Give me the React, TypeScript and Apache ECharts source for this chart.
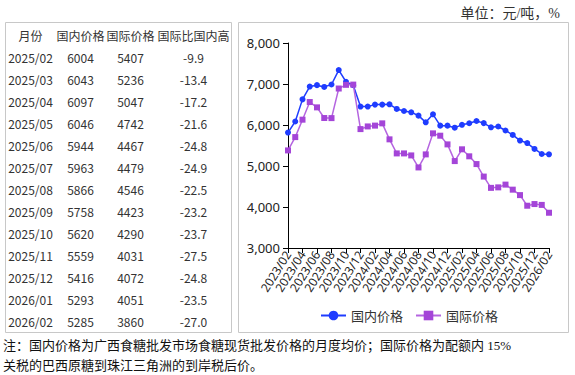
import React, { useEffect, useRef } from "react";
import * as echarts from "echarts";

const months = [
  "2023/02", "2023/03", "2023/04", "2023/05", "2023/06", "2023/07", "2023/08", "2023/09", "2023/10", "2023/11", "2023/12",
  "2024/01", "2024/02", "2024/03", "2024/04", "2024/05", "2024/06", "2024/07", "2024/08", "2024/09", "2024/10", "2024/11", "2024/12",
  "2025/01", "2025/02", "2025/03", "2025/04", "2025/05", "2025/06", "2025/07", "2025/08", "2025/09", "2025/10", "2025/11", "2025/12",
  "2026/01", "2026/02",
];
const domestic = [
  5815, 6085, 6625, 6937, 6972, 6929, 6988, 7340, 7055, 6970, 6449,
  6449, 6497, 6497, 6505, 6391, 6342, 6310, 6228, 6065, 6261, 5984, 5984,
  5935, 6004, 6043, 6097, 6046, 5944, 5963, 5866, 5758, 5620, 5559, 5416,
  5293, 5285,
];
const international = [
  5380, 5705, 6130, 6560, 6430, 6170, 6168, 6890, 6980, 6985, 5900,
  5965, 5985, 6040, 5650, 5307, 5307, 5258, 4965, 5283, 5796, 5739, 5527,
  5120, 5407, 5236, 5047, 4742, 4467, 4479, 4546, 4423, 4290, 4031, 4072,
  4051, 3860,
];

const tableHeader = ["月份", "国内价格", "国际价格", "国际比国内高"];
const tableMonths = ["2025/02", "2025/03", "2025/04", "2025/05", "2025/06", "2025/07", "2025/08", "2025/09", "2025/10", "2025/11", "2025/12", "2026/01", "2026/02"];
const tableDomestic = ["6004", "6043", "6097", "6046", "5944", "5963", "5866", "5758", "5620", "5559", "5416", "5293", "5285"];
const tableIntl = ["5407", "5236", "5047", "4742", "4467", "4479", "4546", "4423", "4290", "4031", "4072", "4051", "3860"];
const tableDiff = ["-9.9", "-13.4", "-17.2", "-21.6", "-24.8", "-24.9", "-22.5", "-23.2", "-23.7", "-27.5", "-24.8", "-23.5", "-27.0"];

const seriesNames = ["国内价格", "国际价格"];
const unitText = "单位：元/吨，%";
const noteLines = [
  "注：国内价格为广西食糖批发市场食糖现货批发价格的月度均价；国际价格为配额内 15%",
  "关税的巴西原糖到珠江三角洲的到岸税后价。",
];

const BLUE = "#1f3cff";
const PURPLE = "#a445d8";
const PURPLE_LINE = "#b565e0";
const CJK = "'Noto Sans CJK SC', 'Noto Sans', sans-serif";
const SERIF = "'Liberation Serif', 'Noto Sans CJK SC', serif";

export default function App() {
  const ref = useRef<HTMLDivElement>(null);
  useEffect(() => {
    document.body.style.margin = "0";
    if (!ref.current) return;
    const chart = echarts.init(ref.current, undefined, { renderer: "svg" });

    const colX = [30.5, 80.5, 130.5, 193.5];
    const tableTexts: any[] = [];
    tableHeader.forEach((h, c) => {
      tableTexts.push({
        type: "text",
        x: colX[c],
        y: 35,
        style: { text: h, fill: "#333", font: `12px ${CJK}`, textAlign: "center", textVerticalAlign: "middle" },
      });
    });
    tableMonths.forEach((m, r) => {
      const row = [m, tableDomestic[r], tableIntl[r], tableDiff[r]];
      row.forEach((t, c) => {
        tableTexts.push({
          type: "text",
          x: colX[c],
          y: 57 + 22 * r,
          style: { text: t, fill: "#333", font: `12px ${CJK}`, textAlign: "center", textVerticalAlign: "middle" },
        });
      });
    });

    const option: any = {
      animation: false,
      grid: { left: 288, right: 26, top: 43, bottom: 127, containLabel: false },
      xAxis: {
        type: "category",
        data: months,
        boundaryGap: false,
        axisLine: { lineStyle: { color: "#000", width: 1 } },
        axisTick: { show: true, interval: 1, length: 5, lineStyle: { color: "#000" } },
        axisLabel: {
          interval: 1,
          rotate: 58,
          fontSize: 12,
          color: "#222",
          fontFamily: "'Noto Sans', sans-serif",
          margin: 4,
          showMinLabel: true,
          showMaxLabel: true,
          hideOverlap: false,
        },
        splitLine: { show: false },
      },
      yAxis: {
        type: "value",
        min: 3000,
        max: 8000,
        interval: 1000,
        axisLine: { show: true, lineStyle: { color: "#000", width: 1 } },
        axisTick: { show: true, length: 5, lineStyle: { color: "#000" } },
        splitLine: { show: false },
        axisLabel: {
          formatter: (v: number) => v.toLocaleString("en-US"),
          fontSize: 13,
          color: "#222",
          fontFamily: "'Noto Sans', sans-serif",
          margin: 8,
        },
      },
      legend: {
        left: 315,
        top: 304,
        itemWidth: 25,
        itemHeight: 12,
        itemGap: 12,
        textStyle: { fontSize: 13, color: "#333", fontFamily: CJK },
        data: seriesNames,
      },
      series: [
        {
          name: seriesNames[0],
          type: "line",
          data: domestic,
          symbol: "circle",
          symbolSize: 6,
          showAllSymbol: true,
          itemStyle: { color: BLUE },
          lineStyle: { color: BLUE, width: 1.5 },
          z: 2,
        },
        {
          name: seriesNames[1],
          type: "line",
          data: international,
          symbol: "rect",
          symbolSize: 6,
          showAllSymbol: true,
          itemStyle: { color: PURPLE },
          lineStyle: { color: PURPLE_LINE, width: 1.5 },
          z: 3,
        },
      ],
      graphic: [
        { type: "rect", shape: { x: 5.5, y: 22.5, width: 226, height: 310 }, style: { fill: "none", stroke: "#c8c8c8", lineWidth: 1 } },
        { type: "rect", shape: { x: 238.5, y: 22.5, width: 330, height: 310 }, style: { fill: "none", stroke: "#c8c8c8", lineWidth: 1 } },
        ...tableTexts,
        {
          type: "text",
          x: 560,
          y: 13,
          style: { text: unitText, fill: "#333", font: `14px ${SERIF}`, textAlign: "right", textVerticalAlign: "middle" },
        },
        ...noteLines.map((t, i) => ({
          type: "text",
          x: 3,
          y: 345 + 20 * i,
          style: { text: t, fill: "#111", font: `13px ${SERIF}`, textAlign: "left", textVerticalAlign: "middle" },
        })),
      ],
    };
    chart.setOption(option);
    return () => chart.dispose();
  }, []);
  return <div ref={ref} style={{ width: 575, height: 375 }} />;
}
